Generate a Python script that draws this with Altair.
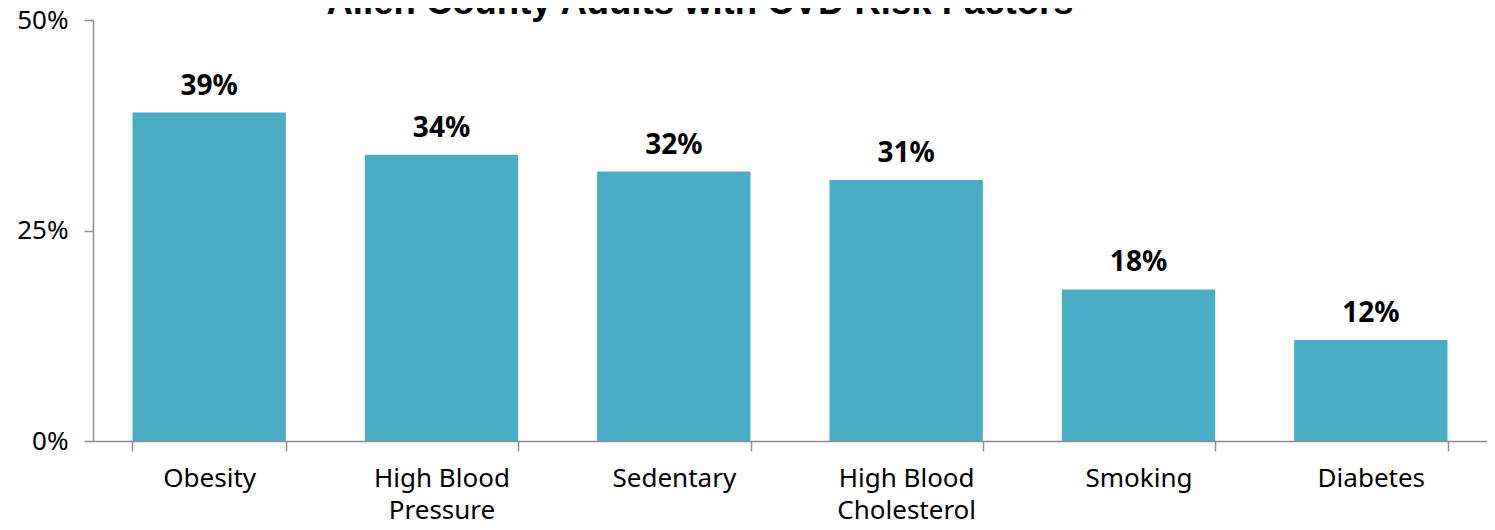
import altair as alt
import pandas as pd

categories = ["Obesity", "High Blood|Pressure", "Sedentary", "High Blood|Cholesterol", "Smoking", "Diabetes"]
values = [0.39, 0.34, 0.32, 0.31, 0.18, 0.12]
labels = ["39%", "34%", "32%", "31%", "18%", "12%"]
y_ticks = [0, 0.25, 0.5]
title_text = "Allen County Adults with CVD Risk Factors"

df = pd.DataFrame({"cat": categories, "val": values, "lab": labels})

FONT = "Noto Sans"
GREY = "#8c8c8c"

x = alt.X("cat:N", sort=categories, title=None,
          scale=alt.Scale(paddingInner=0.34, paddingOuter=0.17),
          axis=alt.Axis(labelAngle=0,
                        labelExpr="isValid(datum.value) ? split(datum.value, '|') : ''",
                        labelFont=FONT, labelFontSize=26, labelColor="#000000",
                        labelLineHeight=32, labelPadding=14, labelBaseline="top",
                        tickBand="extent", tickSize=10, tickColor=GREY, tickWidth=1.5,
                        domainColor=GREY, domainWidth=1.5))
y = alt.Y("val:Q", title=None,
          scale=alt.Scale(domain=[0, 0.5]),
          axis=alt.Axis(values=y_ticks, format=".0%", grid=False,
                        labelFont=FONT, labelFontSize=26, labelColor="#000000",
                        labelPadding=16, tickSize=9, tickColor=GREY, tickWidth=1.5,
                        domainColor=GREY, domainWidth=1.5))

bars = alt.Chart(df).mark_bar(color="#4BACC6").encode(x=x, y=y)
text = alt.Chart(df).mark_text(font=FONT, fontSize=28, fontWeight="bold",
                               baseline="alphabetic", dy=-18, color="#000000").encode(
    x=alt.X("cat:N", sort=categories), y="val:Q", text="lab:N")
title = alt.Chart(pd.DataFrame({"t": [title_text]})).mark_text(
    font="Liberation Sans", fontSize=36.5, fontWeight="bold", baseline="alphabetic",
    align="center", color="#000000").encode(
    x=alt.value(607), y=alt.value(-6), text="t:N")

chart = alt.layer(bars, text, title).properties(
    width=1394, height=421,
    autosize=alt.AutoSizeParams(type="none"),
    padding={"left": 85, "top": 12, "right": 0, "bottom": 80},
).configure_view(stroke=None)

chart.save("out.html", embed_options={"renderer": "svg", "actions": False})
